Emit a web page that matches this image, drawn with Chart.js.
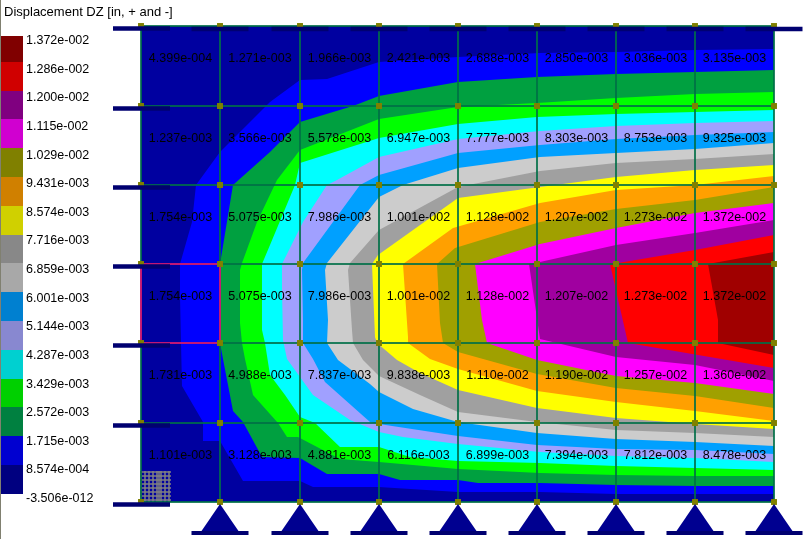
<!DOCTYPE html>
<html lang="en">
<head>
  <meta charset="UTF-8">
  <title>Displacement DZ</title>
  <script src="https://cdn.jsdelivr.net/npm/chart.js"></script>
  <style>
    html, body { margin: 0; padding: 0; background: #fff; overflow: hidden; }
    #page { position: relative; width: 810px; height: 539px; font-family: "Liberation Sans", Arial, sans-serif; font-size: 12.5px; color: #000; }
    #plot { position: absolute; left: 0; top: 0; }
    #edge { position: absolute; left: 0; top: 0; width: 1px; height: 539px; background: #808070; }
    #title { position: absolute; left: 4px; top: 4px; line-height: 15px; white-space: nowrap; font-size: 13px; }
    .swatch { position: absolute; left: 1px; width: 22px; }
    .tick { position: absolute; left: 26px; line-height: 14px; white-space: nowrap; }
  </style>
</head>
<body>
  <div id="page">
    <canvas id="plot" width="810" height="539"></canvas>
    <div id="edge"></div>
    <div id="title">Displacement DZ [in, + and -]</div>
    <div id="legend"></div>
  </div>

  <script>
    // legend, top to bottom
    const legendTicks = ["1.372e-002","1.286e-002","1.200e-002","1.115e-002","1.029e-002","9.431e-003","8.574e-003","7.716e-003",
      "6.859e-003","6.001e-003","5.144e-003","4.287e-003","3.429e-003","2.572e-003","1.715e-003","8.574e-004","-3.506e-012"];
    const legendColors = ["#800000","#d00000","#800080","#d000d0","#808000","#d08000","#d0d000","#888888",
      "#a8a8a8","#0080d0","#8888d0","#00d0d0","#00d000","#008040","#0000d0","#000080"];

    // plate geometry in inches, y going up
    const gridX = [0, 79, 159, 238, 317, 396, 475, 554, 633];
    const gridY = [0, 79, 159, 238, 317, 396, 476];

    // element results, top row first
    const cellLabels = [
      ["4.399e-004","1.271e-003","1.966e-003","2.421e-003","2.688e-003","2.850e-003","3.036e-003","3.135e-003"],
      ["1.237e-003","3.566e-003","5.578e-003","6.947e-003","7.777e-003","8.303e-003","8.753e-003","9.325e-003"],
      ["1.754e-003","5.075e-003","7.986e-003","1.001e-002","1.128e-002","1.207e-002","1.273e-002","1.372e-002"],
      ["1.754e-003","5.075e-003","7.986e-003","1.001e-002","1.128e-002","1.207e-002","1.273e-002","1.372e-002"],
      ["1.731e-003","4.988e-003","7.837e-003","9.838e-003","1.110e-002","1.190e-002","1.257e-002","1.360e-002"],
      ["1.101e-003","3.128e-003","4.881e-003","6.116e-003","6.899e-003","7.394e-003","7.812e-003","8.478e-003"]
    ];

    // contour bands, lowest first; each is the area above that level
    const bandColors = ["#0000a0","#0000ff","#00a040","#00ff00","#00ffff","#a0a0ff","#00a0ff","#cccccc",
      "#a0a0a0","#ffff00","#ffa000","#a0a000","#ff00ff","#a000a0","#ff0000","#a00000"];
    const band0 = [[0,0],[633,0],[633,476],[0,476]];
    const band1 = [[633,453],[554,452],[475,450],[399,449],[317,445],[238,440],[186,423],[159,422],[129,400],[79,350],[55,317],[51,280],[39,238],[39,205],[40,159],[41,116],[62,80],[62,61],[79,61],[102,21],[159,21],[172,15],[238,15],[317,10],[399,10],[475,8],[554,8],[633,8]];
    const band2 = [[633,432],[554,430],[475,428],[396,425],[317,420],[238,406],[212,396],[159,380],[129,350],[92,317],[81,250],[79,238],[79,159],[82,143],[92,91],[102,80],[121,45],[159,44],[186,28],[238,28],[259,22],[317,22],[337,19],[399,19],[475,17],[554,16],[633,16]];
    const band3 = [[633,410],[554,408],[475,404],[396,399],[317,395],[238,383],[159,352],[136,322],[116,280],[101,239],[99,232],[99,179],[101,159],[104,143],[112,107],[137,79],[146,65],[157,65],[199,43],[238,40],[317,33],[399,29],[475,27],[554,26],[633,26]];
    const band4 = [[633,392],[554,390],[475,388],[396,385],[317,378],[238,364],[159,339],[154,317],[129,257],[121,238],[121,172],[124,159],[129,127],[144,107],[159,85],[174,79],[199,55],[238,55],[269,45],[317,41],[399,39],[475,36],[554,34],[633,32]];
    const band5 = [[633,381],[554,379],[475,376],[399,371],[317,363],[238,345],[196,322],[186,317],[162,280],[141,238],[141,212],[142,162],[146,143],[172,107],[209,82],[238,70],[262,65],[317,58],[399,50],[475,46],[554,44],[633,40]];
    const band6 = [[633,370],[554,367],[475,363],[399,357],[317,349],[238,327],[219,317],[162,239],[161,232],[162,182],[162,159],[172,143],[184,120],[229,80],[238,78],[317,66],[396,57],[475,53],[554,52],[633,48]];
    const band7 = [[633,359],[554,353],[475,349],[399,345],[317,334],[262,317],[238,305],[186,239],[184,232],[187,182],[186,159],[197,142],[229,118],[238,110],[272,93],[317,80],[396,69],[475,63],[554,60],[633,56]];
    const band8 = [[633,348],[554,343],[475,339],[399,331],[317,315],[238,272],[209,239],[207,232],[211,172],[212,159],[222,142],[238,126],[279,107],[317,90],[396,80],[475,72],[554,69],[633,65]];
    const band9 = [[633,337],[554,332],[475,325],[399,315],[317,304],[237,247],[231,238],[234,165],[236,159],[256,142],[279,129],[317,112],[396,94],[475,84],[554,78],[633,73]];
    const band10 = [[633,326],[554,317],[475,312],[399,299],[312,274],[262,238],[267,165],[267,159],[289,143],[317,133],[396,111],[475,100],[554,91],[633,81]];
    const band11 = [[633,315],[554,302],[475,293],[399,280],[314,254],[296,238],[299,179],[302,159],[317,150],[396,128],[475,114],[554,106],[633,94]];
    const band12 = [[633,299],[554,289],[475,274],[399,258],[334,238],[341,182],[346,159],[396,142],[475,126],[554,119],[633,108]];
    const band13 = [[633,282],[554,269],[475,257],[399,240],[388,238],[399,163],[475,145],[554,137],[633,121]];
    const band14 = [[633,267],[554,252],[477,239],[469,238],[487,159],[633,134]];
    const band15 = [[633,250],[567,238],[577,182],[577,159],[633,147]];
    const bands = [band0,band1,band2,band3,band4,band5,band6,band7,band8,band9,band10,band11,band12,band13,band14,band15];

    // small mesh patch in the lower left corner
    const patchX = [0,4,8,12,16,18,20,24,28];
    const patchY = [2,6,10,14,18,22,26,30];

    const NAVY = "#000070";
    const GRIDCOL = "rgba(0,110,70,0.85)";

    function pts(list) {
      return list.map(p => ({x: p[0], y: p[1]}));
    }

    function lineDs(list, color, width) {
      return {data: pts(list), showLine: true, fill: false, borderColor: color, borderWidth: width,
        pointRadius: 0, borderCapStyle: "butt", tension: 0};
    }

    function shapeDs(list, color) {
      return {data: pts(list), showLine: true, fill: "shape", backgroundColor: color, borderColor: color, borderWidth: 0,
        pointRadius: 0, tension: 0};
    }

    // painted from first to last, reversed at the end because Chart.js draws dataset 0 on top
    let layers = [];
    bands.forEach((b, i) => layers.push(shapeDs(b, bandColors[i])));

    patchX.forEach(x => layers.push(lineDs([[x,0],[x,31]], "#808080", 1.5)));
    patchY.forEach(y => layers.push(lineDs([[-1,y],[30,y]], "#808080", 1.5)));

    gridX.forEach(x => layers.push(lineDs([[x,0],[x,476]], GRIDCOL, 2)));
    gridY.forEach(y => layers.push(lineDs([[0,y],[633,y]], GRIDCOL, 2)));

    // outline of the selected element
    layers.push(lineDs([[0,159],[79,159],[79,238],[0,238],[0,159]], "#ff0080", 1.5));

    let nodes = [];
    gridX.forEach(x => gridY.forEach(y => nodes.push([x, y])));
    layers.push({data: pts(nodes), showLine: false, pointStyle: "rect", pointRadius: 4.2, pointBorderWidth: 0,
      pointBackgroundColor: "#808000", pointBorderColor: "#808000"});

    // supports
    gridX.slice(1).forEach(x => {
      layers.push(shapeDs([[x,-2],[x+18.5,-29],[x-18.5,-29]], "#000090"));
      layers.push(lineDs([[x-28.5,-31],[x+28.5,-31]], NAVY, 4));
    });
    gridY.forEach(y => layers.push(lineDs([[-28,y-2.5],[29,y-2.5]], NAVY, 4.5)));
    gridX.slice(1).forEach(x => layers.push(lineDs([[x-28.5,473],[x+28.5,473]], NAVY, 4.5)));

    const cellText = {
      id: "cellText",
      afterDatasetsDraw(chart) {
        const ctx = chart.ctx;
        const sx = chart.scales.x, sy = chart.scales.y;
        ctx.save();
        ctx.font = '12.5px "Liberation Sans", Arial, sans-serif';
        ctx.fillStyle = "#000";
        ctx.textAlign = "center";
        ctx.textBaseline = "middle";
        cellLabels.forEach((row, r) => {
          const yMid = (gridY[5 - r] + gridY[6 - r]) / 2 + 7;
          row.forEach((txt, c) => {
            const xMid = (gridX[c] + gridX[c + 1]) / 2;
            ctx.fillText(txt, sx.getPixelForValue(xMid), sy.getPixelForValue(yMid));
          });
        });
        ctx.restore();
      }
    };

    new Chart(document.getElementById("plot").getContext("2d"), {
      type: "scatter",
      data: {datasets: layers.reverse()},
      options: {
        responsive: false,
        animation: false,
        devicePixelRatio: 1,
        layout: {padding: 0, autoPadding: false},
        events: [],
        scales: {
          x: {type: "linear", min: -141, max: 669, display: false},
          y: {type: "linear", min: -37, max: 502, display: false}
        },
        plugins: {legend: {display: false}, tooltip: {enabled: false}, title: {display: false}}
      },
      plugins: [cellText]
    });

    // legend column
    const legendBox = document.getElementById("legend");
    legendColors.forEach((col, i) => {
      const top = i === 0 ? 36 : 33 + 28.8 * i;
      const bottom = 33 + 28.8 * (i + 1);
      const sw = document.createElement("div");
      sw.className = "swatch";
      sw.style.top = top + "px";
      sw.style.height = (bottom - top) + "px";
      sw.style.background = col;
      legendBox.appendChild(sw);
    });
    legendTicks.forEach((txt, i) => {
      const t = document.createElement("div");
      t.className = "tick";
      t.style.top = (33 + 28.63 * i) + "px";
      t.textContent = txt;
      legendBox.appendChild(t);
    });
  </script>
</body>
</html>
